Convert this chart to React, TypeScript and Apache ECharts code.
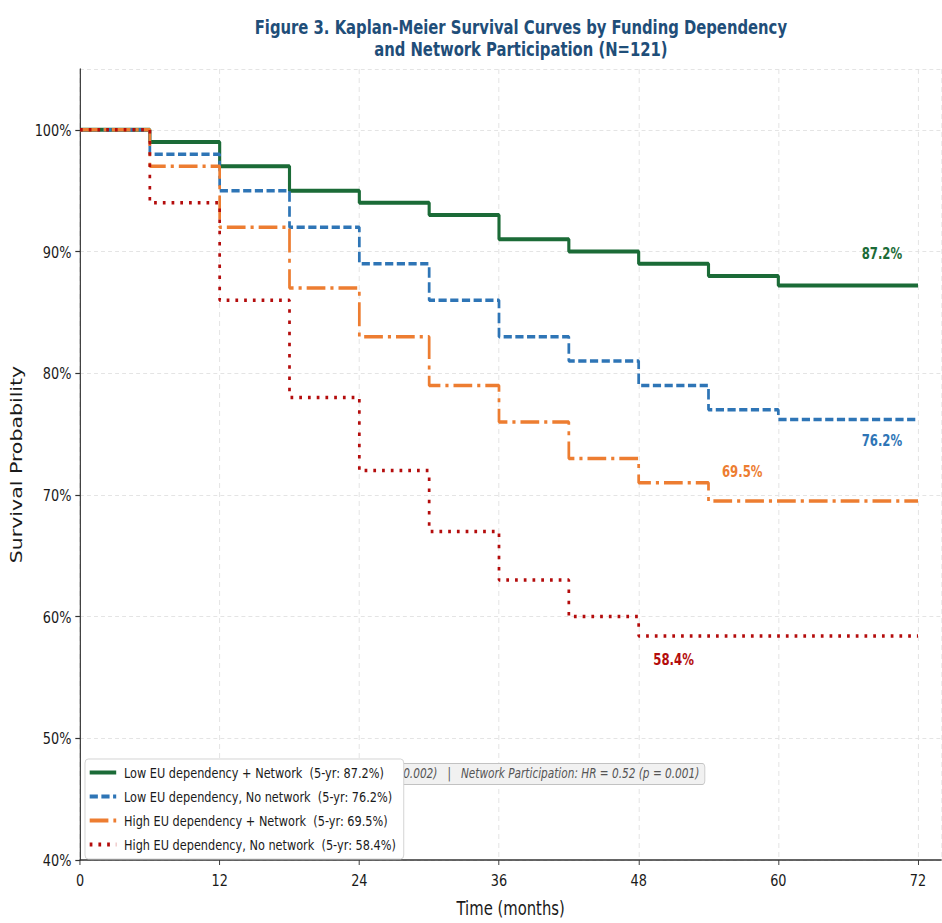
import React, { useEffect, useRef } from "react";
import * as echarts from "echarts";

const months = [0, 6, 12, 18, 24, 30, 36, 42, 48, 54, 60, 72];
const lowNet = [100, 99, 97, 95, 94, 93, 91, 90, 89, 88, 87.2, 87.2];
const lowNoNet = [100, 98, 95, 92, 89, 86, 83, 81, 79, 77, 76.2, 76.2];
const highNet = [100, 97, 92, 87, 83, 79, 76, 73, 71, 69.5, 69.5, 69.5];
const highNoNet = [100, 94, 86, 78, 72, 67, 63, 60, 58.4, 58.4, 58.4, 58.4];
const seriesNames = [
  "Low EU dependency + Network  (5-yr: 87.2%)",
  "Low EU dependency, No network  (5-yr: 76.2%)",
  "High EU dependency + Network  (5-yr: 69.5%)",
  "High EU dependency, No network  (5-yr: 58.4%)",
];
const finalLabels = ["87.2%", "76.2%", "69.5%", "58.4%"];
const xTicks = [0, 12, 24, 36, 48, 60, 72];
const hrText =
  "High EU Dependency: HR = 2.18 (p = 0.002)   |   Network Participation: HR = 0.52 (p = 0.001)";

// The reference picture is horizontally compressed; emulate by rendering wider and scaling.
const SX = 0.78;
const W = 942 / SX;
const H = 923;
const FONT = "'DejaVu Sans', sans-serif";

export default function App() {
  const ref = useRef<HTMLDivElement>(null);
  useEffect(() => {
    document.body.style.margin = "0";
    if (!ref.current) return;
    const chart = echarts.init(ref.current, null, { renderer: "svg" });
    const colors = ["#1b6b37", "#2e75b6", "#ed7d31", "#b40c0c"];
    const widths = [4, 3.5, 3.5, 3.5];
    const types: any[] = ["solid", [10.5, 4.5], [24, 6.4, 4, 6.4], [3.5, 7.7]];
    const datasets = [lowNet, lowNoNet, highNet, highNoNet];
    // label placement: [month, offset in % from final value]
    const labelPos = [
      [68.9, 2.6],
      [68.9, -1.75],
      [56.9, 2.4],
      [51.0, -1.95],
    ];
    const series = datasets.map((vals, i) => ({
      name: seriesNames[i],
      type: "line",
      step: "end",
      symbol: "none",
      data: months.map((m, j) => [m, vals[j]]),
      lineStyle: { color: colors[i], width: widths[i], type: types[i], cap: "butt" },
      itemStyle: { color: colors[i] },
      z: 2 + i,
      markPoint: {
        symbol: "circle",
        symbolSize: 0.1,
        silent: true,
        data: [
          {
            coord: [labelPos[i][0], vals[vals.length - 1] + labelPos[i][1]],
            value: finalLabels[i],
          },
        ],
        label: {
          show: true,
          position: "inside",
          formatter: finalLabels[i],
          color: colors[i],
          fontFamily: FONT,
          fontWeight: "bold",
          fontSize: 15,
        },
      },
    }));

    const plotLeft = 80 / SX;
    const monthPx = (918 / SX - plotLeft) / 72;

    chart.setOption({
      animation: false,
      backgroundColor: "#ffffff",
      title: {
        text: "Figure 3. Kaplan-Meier Survival Curves by Funding Dependency\nand Network Participation (N=121)",
        left: 517 / SX,
        top: 11,
        textAlign: "center",
        textStyle: {
          fontFamily: FONT,
          fontWeight: "bold",
          fontSize: 19,
          lineHeight: 22,
          color: "#1f4e79",
        },
      },
      grid: { left: plotLeft, top: 69, width: monthPx * 74, height: 795 },
      xAxis: {
        type: "value",
        min: 0,
        max: 74,
        interval: 12,
        name: "Time (months)",
        nameLocation: "middle",
        nameGap: 39,
        nameTextStyle: { fontFamily: FONT, fontSize: 19, color: "#1a1a1a" },
        axisLine: { show: true, lineStyle: { color: "#333", width: 1.5 } },
        axisTick: { show: true, length: 5, lineStyle: { color: "#333", width: 1.2 } },
        axisLabel: {
          fontFamily: FONT,
          fontSize: 16.5,
          color: "#1a1a1a",
          margin: 11,
          showMaxLabel: false,
          formatter: (v: number) => (xTicks.includes(v) ? String(v) : ""),
        },
        splitLine: { show: true, lineStyle: { color: "#e0e0e0", width: 1, type: [5, 4] } },
      },
      yAxis: {
        type: "value",
        min: 40,
        max: 105,
        interval: 10,
        name: "Survival Probability",
        nameLocation: "middle",
        nameGap: 71,
        nameTextStyle: { fontFamily: FONT, fontSize: 20.5, color: "#1a1a1a" },
        axisLine: { show: true, lineStyle: { color: "#333", width: 1.5 } },
        axisTick: { show: true, length: 6, lineStyle: { color: "#333", width: 1.2 } },
        axisLabel: {
          fontFamily: FONT,
          fontSize: 16.5,
          color: "#1a1a1a",
          margin: 11,
          showMaxLabel: false,
          formatter: (v: number) => (v % 10 === 0 && v <= 100 ? v + "%" : ""),
        },
        splitLine: { show: true, lineStyle: { color: "#e0e0e0", width: 1, type: [5, 4] } },
      },
      legend: {
        left: 85 / SX,
        top: 759,
        width: 420,
        orient: "vertical",
        z: 20,
        backgroundColor: "#ffffff",
        borderColor: "#cfcfcf",
        borderWidth: 1,
        borderRadius: 4,
        padding: [6, 10, 7, 4],
        itemWidth: 34,
        itemHeight: 14,
        itemGap: 9,
        itemStyle: { opacity: 0 },
        lineStyle: { width: 4 },
        textStyle: { fontFamily: FONT, fontSize: 14.5, color: "#1a1a1a", padding: [0, 0, 0, 5] },
        data: seriesNames,
      },
      graphic: [
        {
          type: "text",
          z: 1,
          right: W - 705 / SX,
          top: 763,
          style: {
            text: hrText,
            font: "italic 13.5px 'DejaVu Sans', sans-serif",
            fill: "#555555",
            backgroundColor: "#f1f1f1",
            borderColor: "#c2c2c2",
            borderWidth: 1,
            borderRadius: 3,
            padding: [3, 6, 3, 6],
          },
        },
      ],
      series,
    });
    return () => chart.dispose();
  }, []);
  return (
    <div style={{ position: "absolute", left: 0, top: 0, width: 942, height: H, overflow: "hidden" }}>
      <div
        ref={ref}
        style={{
          width: W,
          height: H,
          transform: `scaleX(${SX})`,
          transformOrigin: "0 0",
        }}
      />
    </div>
  );
}
